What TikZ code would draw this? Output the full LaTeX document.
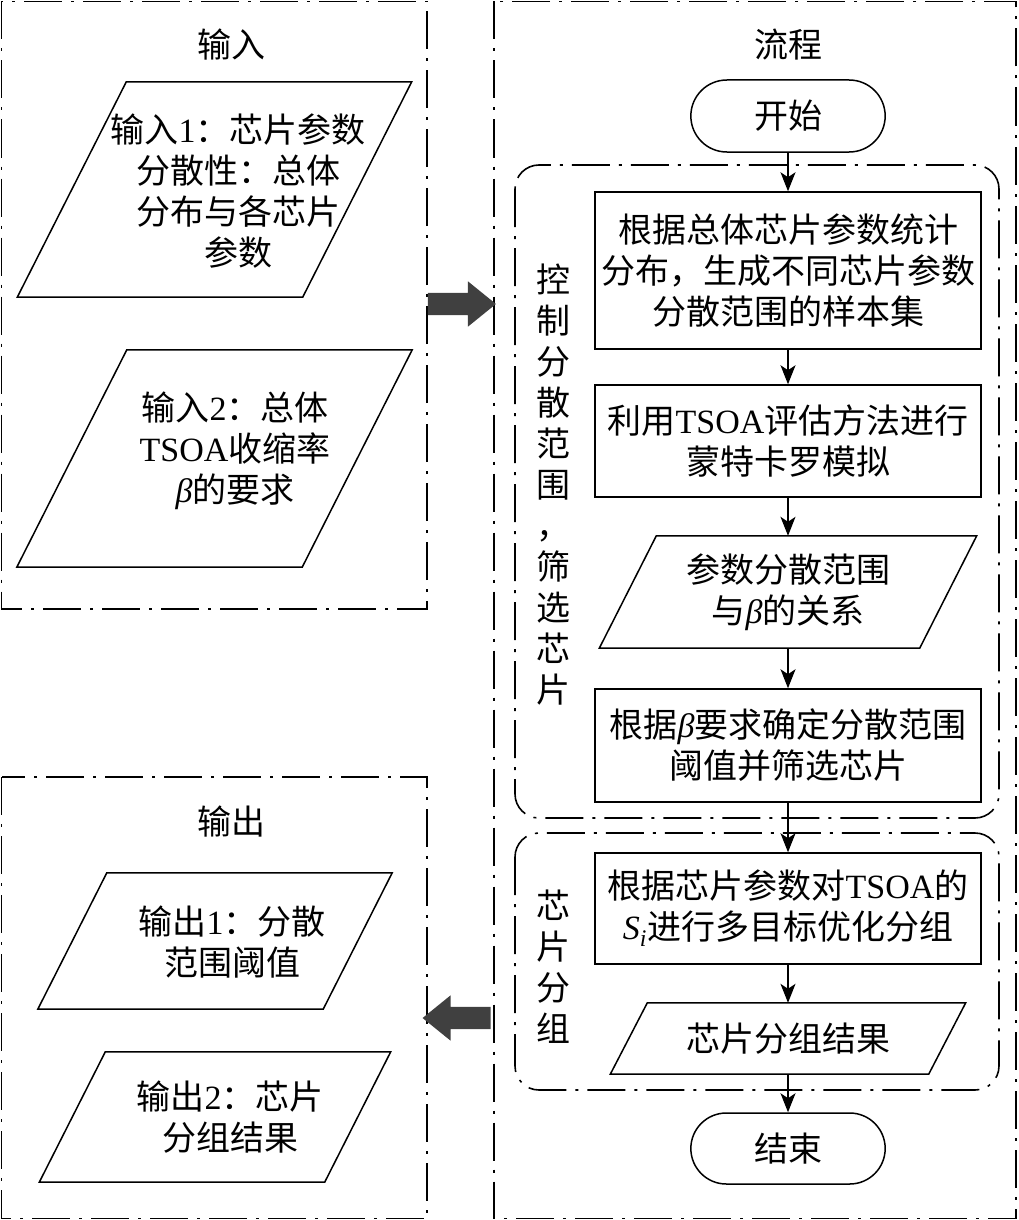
\documentclass[tikz,border=0pt]{standalone}
\usepackage{fontspec}
\setmainfont{Noto Sans CJK SC}
\newfontfamily\tnr{Liberation Serif}
\usetikzlibrary{shapes,arrows,arrows.meta}

% parallelogram round a node: name, half of the slant
\newcommand{\iodraw}[2]{\draw[line width=1.5pt] ([xshift=#2]#1.north west) -- ([xshift=#2]#1.north east)
  -- ([xshift=-#2]#1.south east) -- ([xshift=-#2]#1.south west) -- cycle;}

\begin{document}
\begin{tikzpicture}[x=1pt,y=-1pt,
  every node/.style={font=\fontsize{34}{41}\selectfont},
  txt/.style={align=center},
  box/.style={draw, line width=1.5pt, minimum width=386pt, inner sep=0pt, align=center},
  io/.style={minimum width=285pt, inner sep=0pt, align=center},
  term/.style={rounded rectangle, draw, line width=1.5pt, minimum width=201pt, minimum height=72pt},
  frame/.style={draw, line width=1.6pt, dash pattern=on 38pt off 9pt on 3pt off 9pt},
  grp/.style={frame, rounded corners=24pt},
  fat/.style={single arrow, fill=black!75, minimum height=68pt, inner sep=11pt,
    single arrow head extend=11.5pt, single arrow tip angle=78},
  flow/.style={line width=1.5pt, -{Stealth[length=19pt,width=15pt,inset=5pt]}}
]
\useasboundingbox (0,0) rectangle (1018,1220);

% frames
\draw[frame] (1.5,1.5) rectangle (427,609);
\draw[frame] (1.5,777) rectangle (427,1218.5);
\draw[frame] (494,1.5) rectangle (1016,1218.5);
\draw[grp] (515,165) rectangle (999,818);
\draw[grp] (515,833) rectangle (999,1090);

% input
\node[txt] (tin) at (231,45) {输入};
\node[io, minimum height=215pt] (in1) at (214.5,189.5) {};
\iodraw{in1}{54.5pt}
\node[txt] (in1text) at (238,191) {输入{\tnr 1}：芯片参数\\分散性：总体\\分布与各芯片\\参数};
\node[io, minimum height=217pt] (in2) at (214.5,458.5) {};
\iodraw{in2}{55pt}
\node[txt] (in2text) at (235,451) {输入{\tnr 2}：总体\\{\tnr TSOA}收缩率\\{\tnr\itshape β}的要求};

% output
\node[txt] (tout) at (231,822) {输出};
\node[io, minimum height=136pt] (out1) at (215,941) {};
\iodraw{out1}{34.5pt}
\node[txt] (out1text) at (232,942) {输出{\tnr 1}：分散\\范围阈值};
\node[io, minimum height=130pt] (out2) at (215,1117) {};
\iodraw{out2}{33pt}
\node[txt] (out2text) at (230,1117) {输出{\tnr 2}：芯片\\分组结果};

% flow
\node[txt] (tflow) at (788,45) {流程};
\node[term] (start) at (788,116) {开始};
\node[box, minimum height=157pt] (b1) at (788,270.5) {根据总体芯片参数统计\\分布，生成不同芯片参数\\分散范围的样本集};
\node[box, minimum height=112pt] (b2) at (788,441) {利用{\tnr TSOA}评估方法进行\\蒙特卡罗模拟};
\node[io, minimum width=320pt, minimum height=112pt] (p3) at (788,592) {参数分散范围\\与{\tnr\itshape β}的关系};
\iodraw{p3}{28.5pt}
\node[box, minimum height=113pt] (b4) at (788,745.5) {根据{\tnr\itshape β}要求确定分散范围\\阈值并筛选芯片};
\node[box, minimum height=111pt] (b5) at (788,908.5) {根据芯片参数对{\tnr TSOA}的\\{\tnr\itshape S}\textsubscript{\tnr\itshape i}进行多目标优化分组};
\node[io, minimum width=318pt, minimum height=71pt] (p6) at (788,1038.5) {芯片分组结果};
\iodraw{p6}{18.5pt}
\node[term, minimum height=71pt] (stop) at (788,1148.5) {结束};

\node[txt] (lab1) at (553,485) {控\\制\\分\\散\\范\\围\\，\\筛\\选\\芯\\片};
\node[txt] (lab2) at (553,967) {芯\\片\\分\\组};

\node[fat] (toflow) at (455,304) {};
\node[fat, shape border rotate=180] (toout) at (463.5,1018) {};

\draw[flow] (start.south) -- (b1.north);
\draw[flow] (b1.south) -- (b2.north);
\draw[flow] (b2.south) -- (p3.north);
\draw[flow] (p3.south) -- (b4.north);
\draw[flow] (b4.south) -- (b5.north);
\draw[flow] (b5.south) -- (p6.north);
\draw[flow] (p6.south) -- (stop.north);

\end{tikzpicture}
\end{document}
